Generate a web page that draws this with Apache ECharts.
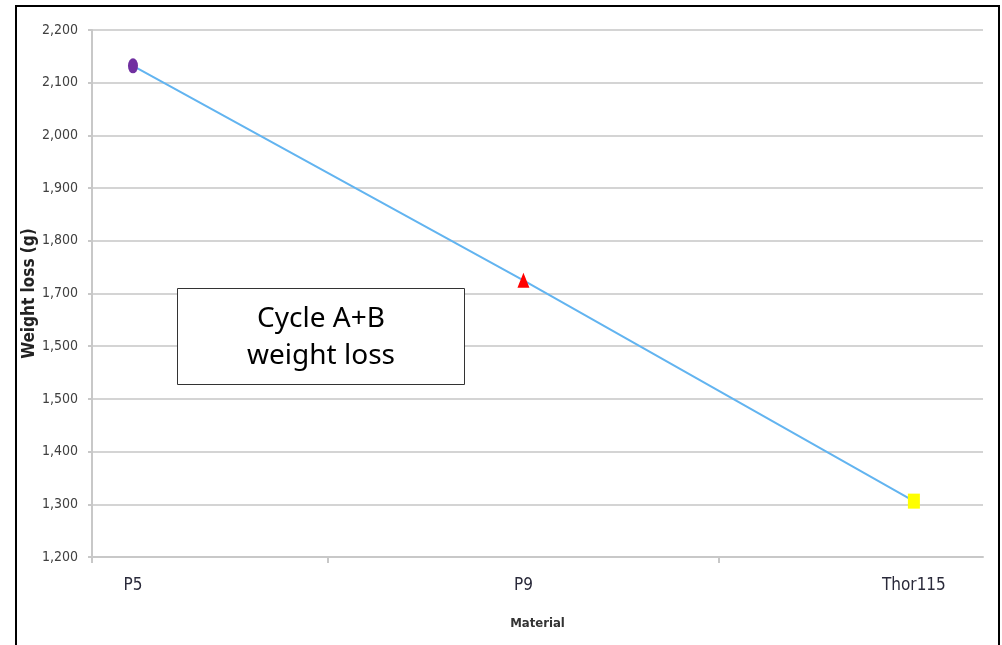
<!DOCTYPE html>
<html><head><meta charset="utf-8">
<script src="https://cdn.jsdelivr.net/npm/echarts@6/dist/echarts.min.js"></script>
<style>html,body{margin:0;padding:0;background:#fff}#c{width:1002px;height:645px}</style>
</head><body><div id="c"></div>
<script>
const categories = ["P5", "P9", "Thor115"];
const weightLoss = [2132, 1725, 1306];
const yTickLabels = ["1,200","1,300","1,400","1,500","1,500","1,700","1,800","1,900","2,000","2,100","2,200"];
const markerColors = ["#7030A0", "#FF0000", "#FFFF00"];
const markerShapes = ["circle", "triangle", "rect"];

const narrow = '"DejaVu Sans Condensed", "Roboto", sans-serif';
const chart = echarts.init(document.getElementById('c'));
chart.setOption({
  animation: false,
  backgroundColor: '#fff',
  grid: { left: 92, top: 30, right: 19, bottom: 88 },
  xAxis: {
    type: 'value', min: -0.105, max: 2.177,
    name: 'Material', nameLocation: 'middle', nameGap: 60, nameMoveOverlap: false,
    nameTextStyle: { fontFamily: narrow, fontWeight: 'bold', fontSize: 13, color: '#333' },
    axisLine: { show: true, onZero: false, lineStyle: { color: '#c8c8c8', width: 2 } },
    axisTick: { show: true, customValues: [-0.105, 0.5, 1.5], length: 6, lineStyle: { color: '#c8c8c8', width: 2 } },
    axisLabel: { customValues: [0, 1, 2], margin: 20, fontFamily: narrow, fontSize: 17, color: '#2a2a3a',
      formatter: v => categories[Math.round(v)] },
    splitLine: { show: false }
  },
  yAxis: {
    type: 'value', min: 1200, max: 2200, interval: 100,
    name: 'Weight loss (g)', nameLocation: 'middle', nameGap: 54, nameRotate: 90, nameMoveOverlap: false,
    nameTextStyle: { fontFamily: narrow, fontWeight: 'bold', fontSize: 17, color: '#222' },
    axisLine: { show: true, onZero: false, lineStyle: { color: '#c8c8c8', width: 2 } },
    axisTick: { show: true, length: 4, lineStyle: { color: '#c8c8c8', width: 2 } },
    axisLabel: { margin: 14, fontFamily: narrow, fontSize: 14, color: '#404040',
      formatter: v => yTickLabels[Math.round((v - 1200) / 100)] },
    splitLine: { show: true, lineStyle: { color: '#d4d4d4', width: 2 } }
  },
  series: [{
    type: 'line',
    data: weightLoss.map((v, i) => ({
      value: [i, v],
      symbol: markerShapes[i],
      symbolSize: i === 0 ? [10, 15] : [12, 15],
      itemStyle: { color: markerColors[i] }
    })),
    lineStyle: { color: '#62b4f0', width: 2 },
    showSymbol: true
  }],
  graphic: [
    { type: 'rect', shape: { x: 16, y: 6, width: 983, height: 660 }, style: { fill: 'none', stroke: '#000', lineWidth: 2 }, z: 100 },
    { type: 'rect', shape: { x: 177.5, y: 288.5, width: 287, height: 96 }, style: { fill: '#fff', stroke: '#333', lineWidth: 1 }, z: 100 },
    { type: 'text', x: 321, y: 338, style: { text: 'Cycle A+B\nweight loss', fill: '#000', font: '28px "Noto Sans"', align: 'center', verticalAlign: 'middle', lineHeight: 37 }, z: 101 }
  ]
});
</script></body></html>
